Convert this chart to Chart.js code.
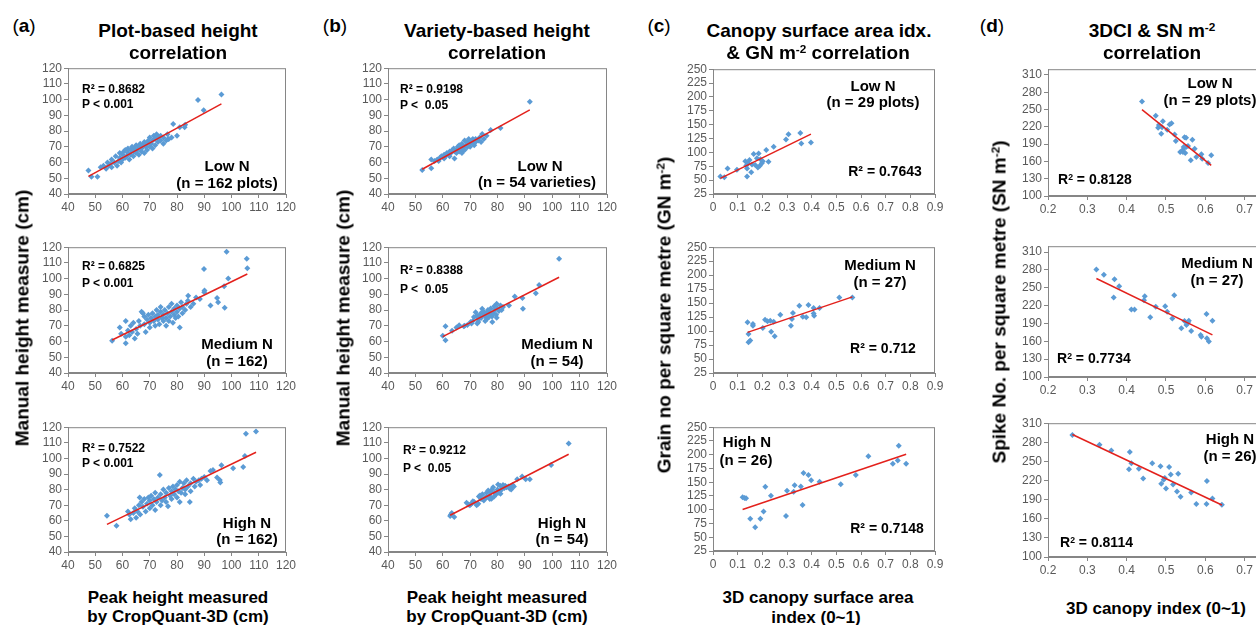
<!DOCTYPE html>
<html>
<head>
<meta charset="utf-8">
<script src="https://cdn.jsdelivr.net/npm/chart.js@4"></script>
<style>
  body { margin: 0; width: 1256px; height: 625px; overflow: hidden; background: #fff; position: relative;
         font-family: "Liberation Sans", Arial, sans-serif; color: #000; }
  canvas { position: absolute; }
  .t { position: absolute; white-space: pre; line-height: 1; }
  sup { font-size: 0.62em; vertical-align: 0.5em; line-height: 0; }
</style>
</head>
<body>
<script>
// tick labels
const heightTicks = [40, 50, 60, 70, 80, 90, 100, 110, 120];
const surfaceTicks = [0, 0.1, 0.2, 0.3, 0.4, 0.5, 0.6, 0.7, 0.8, 0.9];
const grainTicks = [25, 50, 75, 100, 125, 150, 175, 200, 225, 250];
const indexTicks = [0.2, 0.3, 0.4, 0.5, 0.6, 0.7, 0.8];
const spikeTicks = [100, 130, 160, 190, 220, 250, 280, 310];

// (a) plot-based height: [CropQuant-3D peak height, manual height]
const plotLowN = [[47.5,55],[48.6,51],[50.8,51],[52,57],[53,58],[54,56],[54.5,60],[55,58],[55.5,59],[56,57],[56,62],[57,60],[57.5,64],[58,58],[58.5,61],[59,63],[59,66],[59.5,60],[60,62],[60,65],[60.5,67],[61,63],[61,68],[61.5,64],[62,66],[62,69],[62.5,62],[63,65],[63,68],[63.5,70],[64,64],[64,67],[64.5,69],[65,66],[65,71],[65.5,68],[66,65],[66,70],[66.5,72],[67,67],[67,69],[67.5,71],[68,66],[68,73],[68.5,70],[69,68],[69,72],[69.5,74],[70,70],[70,76],[70.5,72],[71,69],[71,74],[71.5,77],[72,71],[72,75],[72.5,78],[73,73],[73,76],[74,74],[74,77],[75,72],[75,76],[76,74],[76.5,78],[76.7,75],[77,75],[78,76],[78.6,84.5],[80,77],[81,82.4],[82.8,82.4],[83,84],[87.7,99.7],[89.8,93.3],[96.3,103.3]];
const plotMediumN = [[56.2,60.5],[59,68.9],[59.5,65],[61.2,58.9],[61.2,63],[61.2,73.1],[62,67],[62.5,64],[63,70],[63.5,66],[64,72],[64.5,62],[65,68],[65.5,65],[66,73],[66.5,70],[67,79],[67.5,78],[68,71],[68,76],[68.5,66],[69,74],[69.5,77],[70,69],[70,72],[70.5,75],[71,78],[71.5,73],[72,70],[72,76],[72.5,80],[73,74],[73,77],[73.5,71],[74,79],[74,82],[74.5,75],[75,73],[75,77],[75.5,80],[76,70],[76,75],[76.5,78],[77,82],[77,73],[77.5,76],[78,79],[78,84],[78.5,72],[79,77],[79,81],[79.5,75],[80,79],[80,83],[80.5,76],[81,68.9],[81,81],[81.5,85],[82,78],[82,82],[83,80],[83.5,84],[84,86],[84.1,89.2],[85,82],[86,84],[87,88],[88.4,87.1],[90,91.3],[90.1,92.4],[89.9,106.2],[92.3,83],[94.7,87.7],[95.1,85],[97.3,95.1],[97.5,81.5],[98.2,117.1],[98.8,100.1],[105.6,112.7],[105.8,106.6]];
const plotHighN = [[54.3,63.2],[57.8,56.8],[62,66],[62.5,64],[63,61],[64,65],[64.5,68],[65,62],[65.5,66],[66,70],[66.3,75],[66.5,64],[67,72],[67.5,69],[68,74],[68.5,66],[69,71],[69.5,75],[70,68],[70,73],[70.5,76],[71,70],[71.5,74],[72,67],[72,78],[72.5,72],[73,75],[73.7,89.3],[74,70],[74,77],[74.5,73],[75,80],[75.5,75],[76,72],[76,78],[76.7,69.3],[77,81],[77.5,76],[78,74],[78,79],[78.5,82],[79,77],[79.5,80],[80,75],[80,83],[80.5,79],[81,72],[81,85],[81.5,78],[82,81],[82.5,84],[83,77],[83,80],[83.5,86],[84,82],[84.7,72],[85,79],[85,84],[86,87],[86.5,82],[87,85],[88,86],[88.5,83],[89,87],[90,88],[91,86],[92.3,92],[93.2,92.6],[94.7,87.8],[95.7,86.1],[95.9,84.6],[96.3,95.6],[100.6,93.7],[104.3,94.5],[104.9,101.5],[105.3,115.8],[109,117.3]];

// (b) variety-based height
const varietyLowN = [[52.5,55.3],[55.8,62],[55.8,56.3],[57,61],[58,62],[58.5,61],[59,63],[59.5,64],[60,63.5],[60.5,65],[60.5,62.5],[61,64],[61.5,66],[62,65],[62.5,67],[62.5,64],[63,66],[63.5,68],[64,69],[64.3,62.6],[64.5,67],[65,68],[65,66],[65.5,70],[66,67],[66,71],[66.5,69],[67,66],[67,72],[67.5,70],[67.5,68],[68,68],[68,74],[68.5,71],[69,69.9],[69,73],[69.5,75],[70,70],[70,72],[70.5,74],[71,73],[71,75],[71.5,71],[72,75],[72,73],[73,74],[73.5,76],[74,73],[74.4,78.2],[75,75],[76,77],[77.5,80.7],[81.1,82],[91.8,98.7]];
const varietyMediumN = [[60,63.7],[61,60.9],[61,69.7],[63.4,66.8],[65,69],[66,70.4],[67.7,69.7],[68,70],[69,70.5],[70.2,72.5],[70.5,71.5],[71,73],[71.4,75.6],[72,78.7],[72.3,76],[72.5,76.5],[72.6,71.4],[73,74],[73,72.5],[73.5,77],[74,75],[74.2,78.5],[74.4,80.8],[74.8,77.5],[75,79],[75.5,76],[75.5,73],[76,78],[76.3,74.6],[76.5,80],[76.8,75.5],[77,77],[77.2,79],[77.5,81],[78,76],[78.1,72.5],[78.5,78],[78.8,82.5],[79,80],[79.5,77],[79.7,84],[79.7,75.2],[80,81],[80.5,79.4],[81.1,83],[81.5,80],[82,82],[84.2,83],[86.3,88.6],[89.1,87.7],[89.3,80.8],[94,90.7],[95.2,95.9],[102.5,112.7]];
const varietyHighN = [[62.7,63],[63,64],[63.3,65],[64.2,62.5],[68.7,71.6],[69.5,70.5],[69.9,69.9],[70.5,71],[71,72.5],[71.5,72],[72.4,69.9],[73,71],[73.2,75.5],[73.6,76.2],[74,74],[74.5,77],[74.8,73.7],[75,73],[75.5,75],[76,78],[76,75],[76.6,79.4],[77,76],[77.2,74],[77.5,78.5],[77.8,74.1],[78,80],[78.4,81.5],[78.8,75.5],[79,78],[79.5,77],[80,80],[80.2,83.2],[80.5,78],[80.8,79],[81,82.5],[81.1,77.3],[81.5,80],[82,83],[82.5,81],[82.8,82.5],[83.3,81.5],[84,82],[84.5,80.5],[85,80],[85.1,81.5],[85.5,83],[86,82],[87.2,86.7],[89,88.4],[90.3,86.7],[91.8,86.7],[99.6,95.8],[106,109.5]];

// (c) 3D canopy surface area index vs grain number per m2
const grainLowN = [[0.030,56.5],[0.046,55.4],[0.059,70.8],[0.097,68.5],[0.131,83.9],[0.135,76.2],[0.138,70.8],[0.138,56.5],[0.142,80.4],[0.148,86.3],[0.155,64.3],[0.158,78],[0.165,97],[0.171,77.4],[0.178,89.3],[0.182,72.6],[0.185,98.2],[0.190,76],[0.192,87.5],[0.198,80.4],[0.202,83.9],[0.216,104.2],[0.225,83.3],[0.246,110.1],[0.296,123.2],[0.306,132.7],[0.354,135.1],[0.358,116.1],[0.397,117.9]];
const grainMediumN = [[0.140,115.6],[0.144,94.9],[0.144,80.1],[0.151,83],[0.162,109.7],[0.162,112.6],[0.202,105.5],[0.211,120.3],[0.221,117.4],[0.232,118.6],[0.236,99],[0.246,116.8],[0.25,90.7],[0.273,129.2],[0.316,109.7],[0.32,121.5],[0.324,132.2],[0.35,145.2],[0.364,125.7],[0.378,124.5],[0.387,146.4],[0.408,141.1],[0.408,131.6],[0.41,127.4],[0.432,141.1],[0.512,160],[0.565,160]];
const grainHighN = [[0.12,122.5],[0.128,121.5],[0.134,120.7],[0.151,83.6],[0.171,68.1],[0.192,83.6],[0.205,96.8],[0.212,141.7],[0.235,125.5],[0.296,88.4],[0.3,134.5],[0.327,132.7],[0.331,144.7],[0.356,142.3],[0.363,108.8],[0.367,166.8],[0.387,163.2],[0.398,153.6],[0.432,150.7],[0.518,146.5],[0.579,163.2],[0.63,197.3],[0.729,183.6],[0.749,189.6],[0.753,216.5],[0.783,183.6]];

// (d) 3D canopy index vs spike number per m2
const spikeLowN = [[0.439,264.1],[0.474,239.4],[0.48,218.2],[0.482,223.4],[0.488,207.9],[0.49,219.4],[0.492,229.7],[0.503,214.8],[0.509,223.9],[0.514,226.2],[0.522,206.7],[0.525,195.3],[0.536,176.3],[0.543,176.3],[0.543,180.3],[0.545,185],[0.547,202.1],[0.549,174.6],[0.551,201],[0.551,185],[0.556,186.6],[0.563,162],[0.567,197.6],[0.573,182.1],[0.577,167.7],[0.59,172.3],[0.592,164.8],[0.607,157.4],[0.615,170.6]];
const spikeMediumN = [[0.323,281],[0.342,272.1],[0.367,233.7],[0.369,264.3],[0.381,252.6],[0.412,213.6],[0.42,213.6],[0.444,229.2],[0.446,235.9],[0.46,200.3],[0.474,218.1],[0.498,219.2],[0.503,209.7],[0.516,198.6],[0.521,237.6],[0.539,181.9],[0.547,194.1],[0.552,187.5],[0.556,191.3],[0.558,194.7],[0.564,177.4],[0.588,170.7],[0.59,167.9],[0.603,205.8],[0.604,165.2],[0.609,159.6],[0.618,194.7]];
const spikeHighN = [[0.262,291.3],[0.331,276.3],[0.361,267],[0.406,237.9],[0.408,264.9],[0.412,247.3],[0.431,238.5],[0.442,223.4],[0.465,247.3],[0.486,242.6],[0.488,215.1],[0.494,221.4],[0.497,224],[0.5,207.4],[0.508,241.1],[0.512,229.6],[0.518,213.6],[0.528,202.7],[0.531,230.7],[0.537,194.4],[0.564,201.1],[0.577,183],[0.603,183],[0.604,219.3],[0.618,191.8],[0.642,182]];

const BLUE = "#5b9bd5";
const RED = "#e3211c";
const AXIS = "#868686";

Chart.defaults.font.family = '"Liberation Sans", Arial, sans-serif';
Chart.defaults.font.size = 12;
Chart.defaults.color = "#595959";

const panels = [
  { data: plotLowN, xTicks: heightTicks, yTicks: heightTicks, box: [68, 67, 286, 194] },
  { data: plotMediumN, xTicks: heightTicks, yTicks: heightTicks, box: [68, 246, 286, 373] },
  { data: plotHighN, xTicks: heightTicks, yTicks: heightTicks, box: [68, 426, 286, 552] },
  { data: varietyLowN, xTicks: heightTicks, yTicks: heightTicks, box: [388, 67, 607, 194] },
  { data: varietyMediumN, xTicks: heightTicks, yTicks: heightTicks, box: [388, 246, 607, 373] },
  { data: varietyHighN, xTicks: heightTicks, yTicks: heightTicks, box: [388, 426, 607, 552] },
  { data: grainLowN, xTicks: surfaceTicks, yTicks: grainTicks, box: [713, 68, 935, 194] },
  { data: grainMediumN, xTicks: surfaceTicks, yTicks: grainTicks, box: [713, 246, 935, 373] },
  { data: grainHighN, xTicks: surfaceTicks, yTicks: grainTicks, box: [713, 426, 935, 551] },
  { data: spikeLowN, xTicks: indexTicks, yTicks: spikeTicks, yMax: 320, box: [1048, 68, 1284, 196] },
  { data: spikeMediumN, xTicks: indexTicks, yTicks: spikeTicks, yMax: 320, box: [1048, 245, 1284, 377] },
  { data: spikeHighN, xTicks: indexTicks, yTicks: spikeTicks, box: [1048, 422, 1284, 557] },
];

// least squares line across the data's x range, like Excel's linear trendline
const trendOf = function (pts) {
  let sx = 0, sy = 0, sxx = 0, sxy = 0;
  const n = pts.length;
  pts.forEach(([x, y]) => { sx += x; sy += y; sxx += x * x; sxy += x * y; });
  const m = (n * sxy - sx * sy) / (n * sxx - sx * sx);
  const c = (sy - m * sx) / n;
  const xs = pts.map((p) => p[0]);
  const x0 = Math.min(...xs), x1 = Math.max(...xs);
  return [{ x: x0, y: m * x0 + c }, { x: x1, y: m * x1 + c }];
};

const framePlugin = {
  id: "frame",
  beforeDatasetsDraw(chart) {
    const { ctx, chartArea: a } = chart;
    ctx.save();
    ctx.strokeStyle = AXIS;
    ctx.lineWidth = 1;
    ctx.strokeRect(a.left + 0.5, a.top + 0.5, a.right - a.left - 1, a.bottom - a.top - 1);
    ctx.restore();
  },
};

const fmt = (v) => String(+v.toFixed(2));

const makeChart = function (p) {
  const [l, t, r, b] = p.box;
  const padTop = 8, padRight = 14, axisW = 40, axisH = 22;
  const canvas = document.createElement("canvas");
  canvas.width = r - l + axisW + padRight;
  canvas.height = b - t + padTop + axisH;
  canvas.style.left = l - axisW + "px";
  canvas.style.top = t - padTop + "px";
  document.body.appendChild(canvas);
  const axis = (ticks, min, max, fit) => ({
    type: "linear",
    min: min,
    max: max,
    afterBuildTicks: (ax) => { ax.ticks = ticks.map((v) => ({ value: v })); },
    afterFit: fit,
    grid: { drawOnChartArea: false, drawTicks: true, tickLength: 4, color: AXIS },
    border: { color: AXIS },
    ticks: { padding: 2, autoSkip: false, maxRotation: 0, callback: fmt },
  });
  new Chart(canvas, {
    type: "scatter",
    data: {
      datasets: [
        {
          type: "line",
          data: trendOf(p.data),
          borderColor: RED,
          borderWidth: 1.5,
          pointRadius: 0,
        },
        {
          data: p.data.map(([x, y]) => ({ x, y })),
          pointStyle: "rectRot",
          radius: 3,
          backgroundColor: BLUE,
          borderColor: BLUE,
          borderWidth: 0,
        },
      ],
    },
    options: {
      responsive: false,
      animation: false,
      events: [],
      devicePixelRatio: 1,
      layout: { padding: { top: padTop, right: padRight, left: 0, bottom: 0 } },
      plugins: { legend: { display: false }, tooltip: { enabled: false } },
      scales: {
        x: axis(p.xTicks, p.xTicks[0], p.xTicks[p.xTicks.length - 1], (ax) => { ax.height = axisH; }),
        y: axis(p.yTicks, p.yTicks[0], p.yMax || p.yTicks[p.yTicks.length - 1], (ax) => { ax.width = axisW; }),
      },
    },
    plugins: [framePlugin],
  });
};

// text placed on the page: anchor "c" centres, "l" starts at x
const put = function (html, x, y, size, anchor, opts) {
  opts = opts || {};
  const d = document.createElement("div");
  d.className = "t";
  d.innerHTML = html;
  d.style.left = x + "px";
  d.style.top = y + "px";
  d.style.fontSize = size + "px";
  d.style.fontWeight = opts.weight || "bold";
  let tr = anchor === "c" ? "translate(-50%,-50%)" : "translate(0,-50%)";
  if (opts.rotate) tr += " rotate(-90deg)";
  d.style.transform = tr;
  document.body.appendChild(d);
};

const init = function () {
  panels.forEach(makeChart);

  // panel letters and titles
  put("(<b>a</b>)", 24, 25, 19, "c", { weight: "normal" });
  put("(<b>b</b>)", 335, 25, 19, "c", { weight: "normal" });
  put("(<b>c</b>)", 659, 25, 19, "c", { weight: "normal" });
  put("(<b>d</b>)", 992, 25, 19, "c", { weight: "normal" });
  put("Plot-based height", 178, 30, 19, "c");
  put("correlation", 178, 52, 19, "c");
  put("Variety-based height", 497, 30, 19, "c");
  put("correlation", 497, 52, 19, "c");
  put("Canopy surface area idx.", 819, 30, 19, "c");
  put("&amp; GN m<sup>-2</sup> correlation", 818, 52, 19, "c");
  put("3DCI &amp; SN m<sup>-2</sup>", 1152, 30, 19, "c");
  put("correlation", 1152, 52, 19, "c");

  // axis titles
  put("Manual height measure (cm)", 22, 318, 19, "c", { rotate: true });
  put("Manual height measure (cm)", 343, 318, 19, "c", { rotate: true });
  put("Grain no per square metre (GN m<sup>-2</sup>)", 664, 315, 19, "c", { rotate: true });
  put("Spike No. per square metre (SN m<sup>-2</sup>)", 999, 302, 19, "c", { rotate: true });
  put("Peak height measured", 178, 597, 17, "c");
  put("by CropQuant-3D (cm)", 178, 616, 17, "c");
  put("Peak height measured", 497, 597, 17, "c");
  put("by CropQuant-3D (cm)", 497, 616, 17, "c");
  put("3D canopy surface area", 818, 597, 17, "c");
  put("index (0~1)", 816, 617, 17, "c");
  put("3D canopy index (0~1)", 1156, 608, 17, "c");

  // (a) annotations
  put("R² = 0.8682", 82, 89, 12, "l");
  put("P < 0.001", 82, 104, 12, "l");
  put("Low N", 227, 165, 15, "c");
  put("(n = 162 plots)", 227, 182, 15, "c");
  put("R² = 0.6825", 82, 266, 12, "l");
  put("P < 0.001", 82, 283, 12, "l");
  put("Medium N", 237, 343, 15, "c");
  put("(n = 162)", 237, 360, 15, "c");
  put("R² = 0.7522", 82, 448, 12, "l");
  put("P < 0.001", 82, 463, 12, "l");
  put("High N", 247, 522, 15, "c");
  put("(n = 162)", 247, 538, 15, "c");

  // (b) annotations
  put("R² = 0.9198", 400, 89, 12, "l");
  put("P <  0.05", 400, 105, 12, "l");
  put("Low N", 540, 165, 15, "c");
  put("(n = 54 varieties)", 537, 181, 15, "c");
  put("R² = 0.8388", 400, 270, 12, "l");
  put("P <  0.05", 400, 289, 12, "l");
  put("Medium N", 557, 343, 15, "c");
  put("(n = 54)", 557, 360, 15, "c");
  put("R² = 0.9212", 403, 450, 12, "l");
  put("P <  0.05", 403, 468, 12, "l");
  put("High N", 562, 522, 15, "c");
  put("(n = 54)", 562, 538, 15, "c");

  // (c) annotations
  put("Low N", 873, 85, 15, "c");
  put("(n = 29 plots)", 873, 101, 15, "c");
  put("R² = 0.7643", 885, 171, 14, "c");
  put("Medium N", 880, 264, 15, "c");
  put("(n = 27)", 880, 281, 15, "c");
  put("R² = 0.712", 883, 348, 14, "c");
  put("High N", 747, 441, 15, "c");
  put("(n = 26)", 746, 459, 15, "c");
  put("R² = 0.7148", 887, 528, 14, "c");

  // (d) annotations
  put("Low N", 1210, 82, 15, "c");
  put("(n = 29 plots)", 1210, 99, 15, "c");
  put("R<sup>2</sup> = 0.8128", 1058, 179, 14, "l");
  put("Medium N", 1217, 262, 15, "c");
  put("(n = 27)", 1217, 279, 15, "c");
  put("R<sup>2</sup> = 0.7734", 1057, 358, 14, "l");
  put("High N", 1230, 438, 15, "c");
  put("(n = 26)", 1230, 455, 15, "c");
  put("R<sup>2</sup> = 0.8114", 1060, 542, 14, "l");
};

window.onload = init;
</script>
</body>
</html>
